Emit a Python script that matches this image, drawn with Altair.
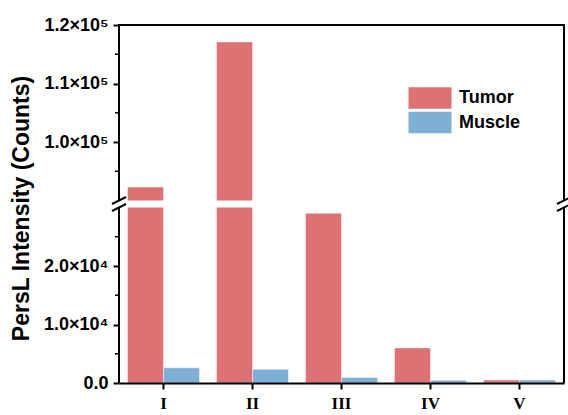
import altair as alt
import pandas as pd

# ---- data ----
CATEGORIES = ["I", "II", "III", "IV", "V"]
TUMOR = [92300, 117100, 29000, 6000, 500]
MUSCLE = [2600, 2350, 950, 450, 500]
SERIES = ["Tumor", "Muscle"]
COLORS = ["#DE7272", "#7EAFD4"]

Y_TICKS = [0, 10000, 20000, 100000, 110000, 120000]
Y_TICK_LABELS = ["0.0", "1.0×10⁴", "2.0×10⁴", "1.0×10⁵", "1.1×10⁵", "1.2×10⁵"]
Y_MINOR = [5000, 15000, 25000, 95000, 105000, 115000]
BREAK_LO, BREAK_HI = 30000, 90000
Y_MAX = 120000

W, H = 445, 358
GAP = 7
SEG = (H - GAP) / 2

rows = []
for i, c in enumerate(CATEGORIES):
    rows.append({"cat": c, "series": "Tumor", "value": TUMOR[i]})
    rows.append({"cat": c, "series": "Muscle", "value": MUSCLE[i]})
df = pd.DataFrame(rows)

yscale = alt.Scale(domain=[0, BREAK_LO, BREAK_HI, Y_MAX],
                   range=[H, H - SEG, SEG, 0], nice=False, zero=False)

label_expr = ""
for v, l in zip(Y_TICKS, Y_TICK_LABELS):
    label_expr += f"datum.value == {v} ? '{l}' : "
label_expr += "''"

FONT = "Liberation Sans"

bars = alt.Chart(df).mark_bar(stroke="white", strokeOpacity=0.45, strokeWidth=1).encode(
    x=alt.X("cat:N", sort=CATEGORIES,
            scale=alt.Scale(paddingInner=0, paddingOuter=0),
            axis=alt.Axis(title=None, labelAngle=0, labelFont="Liberation Serif",
                          labelFontWeight="bold", labelFontSize=17, labelColor="black",
                          domainColor="black", domainWidth=2, tickColor="black",
                          tickWidth=2, tickSize=6, labelPadding=6, zindex=1)),
    xOffset=alt.XOffset("series:N", sort=SERIES,
                        scale=alt.Scale(paddingInner=0, paddingOuter=0.236)),
    y=alt.Y("value:Q", scale=yscale,
            axis=alt.Axis(values=Y_TICKS, labelExpr=label_expr, domain=False, grid=False,
                          tickColor="black", tickWidth=2, tickSize=6, labelPadding=5,
                          labelFont=FONT, labelFontWeight="bold", labelFontSize=18,
                          labelColor="black",
                          title="PersL Intensity (Counts)", titleFont=FONT,
                          titleFontWeight="bold", titleFontSize=23, titleColor="black",
                          titleAngle=-90, titleAlign="center", titleBaseline="alphabetic",
                          titleX=-91, titleY=183, zindex=0)),
    color=alt.Color("series:N", sort=SERIES,
                    scale=alt.Scale(domain=SERIES, range=COLORS),
                    legend=alt.Legend(title=None, orient="none", legendX=300, legendY=62,
                                      symbolType="M-2,-1L2,-1L2,1L-2,1Z",
                                      symbolSize=462, symbolStrokeWidth=0,
                                      symbolOpacity=1, labelFont=FONT,
                                      labelFontWeight="bold", labelFontSize=18,
                                      labelColor="black", labelOffset=18,
                                      rowPadding=2.5, padding=0)),
)

# white gap across the bars at the axis break
gap_df = pd.DataFrame({"lo": [BREAK_LO], "hi": [BREAK_HI]})
gap = alt.Chart(gap_df).mark_rect(color="white").encode(
    x=alt.value(-1), x2=alt.value(W + 1),
    y=alt.Y("lo:Q", scale=yscale), y2="hi:Q")

# frame segments (left and right, broken)
seg_df = pd.DataFrame({"a": [0, BREAK_HI], "b": [BREAK_LO, Y_MAX]})
left = alt.Chart(seg_df).mark_rule(color="black", strokeWidth=2).encode(
    x=alt.value(0), y=alt.Y("a:Q", scale=yscale), y2="b:Q")
right = alt.Chart(seg_df).mark_rule(color="black", strokeWidth=2).encode(
    x=alt.value(W), y=alt.Y("a:Q", scale=yscale), y2="b:Q")

top_df = pd.DataFrame({"t": [Y_MAX]})
top = alt.Chart(top_df).mark_rule(color="black", strokeWidth=2).encode(
    x=alt.value(-1), x2=alt.value(W + 1), y=alt.Y("t:Q", scale=yscale))

# minor ticks
minor_df = pd.DataFrame({"m": Y_MINOR})
minor = alt.Chart(minor_df).mark_rule(color="black", strokeWidth=1.5).encode(
    x=alt.value(-4), x2=alt.value(0), y=alt.Y("m:Q", scale=yscale))

# break marks
brk_df = pd.DataFrame({"b": [BREAK_LO, BREAK_HI]})
brk_left = alt.Chart(brk_df).mark_rule(color="black", strokeWidth=2, yOffset=3.5, y2Offset=-3.5).encode(
    x=alt.value(-7), x2=alt.value(7), y=alt.Y("b:Q", scale=yscale), y2="b:Q")
brk_right = alt.Chart(brk_df).mark_rule(color="black", strokeWidth=2, yOffset=3.5, y2Offset=-3.5).encode(
    x=alt.value(W - 7), x2=alt.value(W + 7), y=alt.Y("b:Q", scale=yscale), y2="b:Q")

chart = alt.layer(bars, gap, left, right, top, minor, brk_left, brk_right).properties(
    width=W, height=H,
    autosize=alt.AutoSizeParams(type="none"),
    padding={"left": 119, "top": 25, "right": 4, "bottom": 32},
).configure_view(stroke=None).configure(background="white")

chart.save("out.html", embed_options={"renderer": "svg", "actions": False})
